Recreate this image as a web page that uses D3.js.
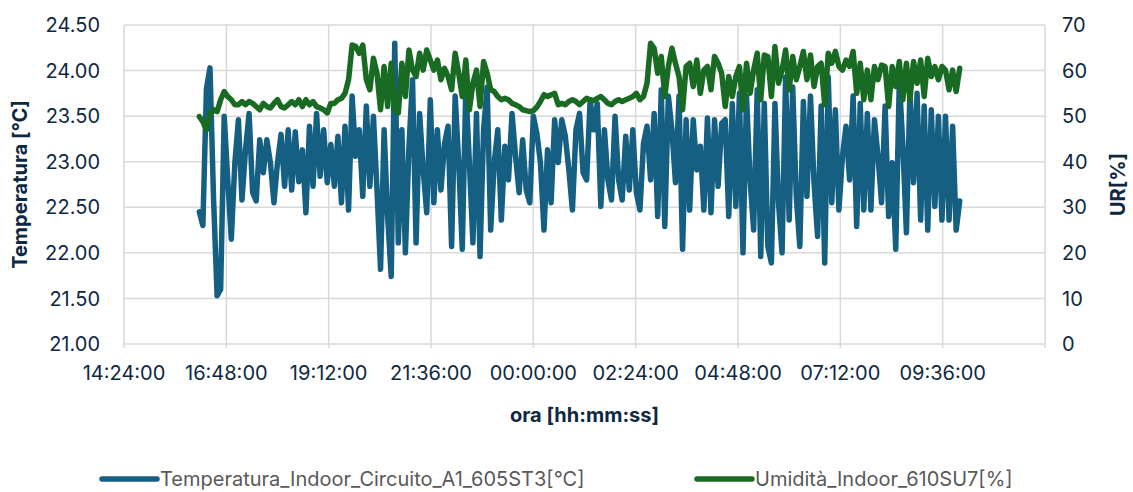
<!DOCTYPE html>
<html>
<head>
<meta charset="utf-8">
<script src="https://cdn.jsdelivr.net/npm/d3@7"></script>
<style>
  html, body { margin: 0; padding: 0; background: #fff; }
  #chart { width: 1133px; height: 492px; }
  text { font-family: Inter, "Liberation Sans", Arial, sans-serif; }
</style>
</head>
<body>
<div id="chart"></div>
<script>
// Temperatura e umidità indoor, campioni ogni 5 minuti dalle 16:10 alle 10:00
const startTime = "16:10";
const stepMinutes = 5;

const temperature = [
  22.45, 22.30, 23.80, 24.03, 22.60, 21.53, 21.60, 23.50, 22.80, 22.15,
  22.99, 23.46, 22.58, 23.13, 23.53, 22.66, 22.57, 23.24, 22.88, 23.24,
  22.99, 22.55, 22.99, 23.30, 22.73, 23.35, 22.69, 23.33, 22.78, 23.13,
  22.44, 23.39, 22.73, 23.53, 22.84, 23.35, 22.77, 23.19, 22.73, 23.28,
  22.55, 23.39, 22.47, 23.72, 23.06, 23.35, 22.62, 23.61, 22.73, 23.50,
  22.69, 21.82, 23.35, 22.40, 21.74, 24.30, 22.11, 23.35, 22.00, 23.17,
  23.90, 22.11, 23.53, 22.91, 22.44, 23.68, 22.55, 23.35, 22.69, 23.20,
  23.39, 22.07, 23.72, 22.99, 22.04, 23.82, 22.99, 22.11, 23.53, 21.96,
  23.35, 23.82, 22.25, 22.99, 23.35, 22.36, 23.17, 22.80, 23.53, 23.06,
  22.66, 23.24, 22.69, 22.55, 23.50, 23.31, 22.99, 22.25, 23.13, 22.55,
  23.46, 22.99, 23.46, 23.28, 22.91, 22.47, 23.35, 23.53, 22.88, 22.80,
  23.68, 23.35, 23.64, 22.51, 23.35, 22.80, 22.58, 23.50, 22.80, 22.58,
  23.28, 22.69, 23.35, 22.66, 22.47, 23.20, 23.39, 22.80, 23.53, 22.40,
  23.79, 22.29, 23.72, 23.35, 22.77, 23.72, 22.04, 23.46, 22.47, 23.46,
  22.91, 23.17, 22.47, 23.48, 22.44, 23.46, 22.73, 23.42, 23.46, 22.40,
  23.64, 22.51, 23.75, 22.00, 23.72, 22.80, 22.25, 23.79, 21.96, 23.64,
  22.07, 21.89, 23.64, 22.55, 22.00, 23.93, 22.36, 23.82, 22.62, 22.07,
  23.66, 22.62, 23.72, 22.77, 22.18, 23.61, 21.89, 23.93, 22.55, 23.57,
  22.47, 23.06, 23.39, 22.80, 23.72, 22.29, 23.64, 22.47, 23.53, 22.47,
  23.46, 23.06, 22.55, 23.61, 22.40, 22.99, 22.04, 23.90, 23.17, 22.22,
  23.79, 22.77, 23.75, 22.36, 23.61, 22.25, 23.57, 22.51, 23.50, 22.36,
  23.50, 22.36, 23.39, 22.25, 22.57
];

const humidity = [
  49.9, 48.8, 47.0, 50.7, 51.4, 51.0, 53.6, 55.4, 54.3, 53.6,
  52.5, 52.5, 53.2, 52.5, 53.2, 52.8, 52.1, 51.4, 52.8, 52.1,
  51.8, 52.8, 53.6, 52.1, 51.8, 52.5, 53.2, 52.5, 53.6, 52.1,
  53.6, 52.5, 53.2, 52.1, 51.8, 51.4, 50.7, 52.8, 52.8, 53.6,
  53.9, 55.0, 58.0, 65.6, 65.3, 63.8, 65.6, 58.0, 55.8, 62.7,
  59.4, 51.4, 60.9, 52.1, 61.6, 51.4, 50.7, 61.6, 54.3, 64.5,
  60.1, 58.7, 63.8, 60.1, 64.5, 62.3, 60.1, 62.3, 58.0, 60.5,
  58.7, 55.8, 63.8, 59.4, 54.3, 62.3, 51.4, 57.2, 60.1, 52.1,
  62.0, 59.4, 55.8, 55.4, 54.3, 53.6, 53.9, 53.6, 52.8, 52.5,
  52.1, 51.4, 51.2, 51.0, 51.2, 52.0, 53.2, 54.7, 54.3, 54.7,
  55.0, 52.5, 52.8, 52.5, 53.2, 53.6, 53.2, 52.5, 53.2, 53.9,
  53.6, 53.4, 53.9, 54.3, 53.6, 52.8, 52.5, 53.2, 53.6, 53.2,
  53.6, 53.9, 54.3, 55.0, 53.6, 54.3, 57.2, 66.0, 64.9, 59.4,
  63.1, 54.3, 60.9, 64.9, 61.6, 58.7, 51.4, 60.9, 61.6, 56.5,
  62.3, 55.0, 60.1, 60.9, 55.8, 63.1, 61.6, 59.4, 52.1, 58.7,
  54.3, 58.7, 60.9, 51.4, 61.6, 55.0, 60.1, 63.8, 53.6, 63.4,
  63.1, 54.3, 65.3, 57.2, 60.1, 64.5, 55.8, 63.1, 58.0, 60.9,
  64.2, 58.0, 63.4, 56.5, 60.9, 61.6, 52.5, 63.8, 61.6, 64.2,
  60.9, 60.1, 62.3, 60.9, 64.2, 55.0, 61.6, 53.6, 60.1, 53.6,
  60.9, 58.0, 61.2, 60.9, 52.1, 60.9, 56.5, 62.0, 53.6, 61.6,
  53.6, 62.0, 57.2, 62.3, 54.3, 62.7, 58.7, 60.9, 58.0, 60.9,
  60.1, 55.8, 60.1, 55.4, 60.5
];

const xTickLabels = ["14:24:00", "16:48:00", "19:12:00", "21:36:00", "00:00:00",
                     "02:24:00", "04:48:00", "07:12:00", "09:36:00"];
const tempTicks = [21.0, 21.5, 22.0, 22.5, 23.0, 23.5, 24.0, 24.5];
const urTicks = [0, 10, 20, 30, 40, 50, 60, 70];

const seriesNames = ["Temperatura_Indoor_Circuito_A1_605ST3[°C]", "Umidità_Indoor_610SU7[%]"];

(() => {
    const W = 1133, H = 492;
    const m = { top: 25, right: 88, bottom: 148, left: 124 };
    const w = W - m.left - m.right;
    const h = H - m.top - m.bottom;
    const textCol = "#0E2841";
    const blue = "#156082", green = "#196B24";

    const svg = d3.select("#chart").append("svg").attr("width", W).attr("height", H);
    const g = svg.append("g").attr("transform", `translate(${m.left},${m.top})`);

    // asse dei tempi: giorno 1 -> giorno 2
    const day = (d, hm) => { const [hh, mm] = hm.split(":").map(Number); return new Date(2024, 0, d, hh, mm); };
    const t0 = day(1, startTime);
    const tAt = i => new Date(t0.getTime() + i * stepMinutes * 60000);
    const x = d3.scaleTime().domain([day(1, "14:24"), day(2, "12:00")]).range([0, w]);
    const yT = d3.scaleLinear().domain([21, 24.5]).range([h, 0]);
    const yU = d3.scaleLinear().domain([0, 70]).range([h, 0]);

    const xTicks = d3.range(10).map(i => new Date(day(1, "14:24").getTime() + i * 144 * 60000));

    // griglia
    g.append("g").selectAll("line").data(tempTicks).join("line")
        .attr("x1", 0).attr("x2", w).attr("y1", d => yT(d)).attr("y2", d => yT(d))
        .attr("stroke", "#D9D9D9").attr("stroke-width", 1.5);
    g.append("g").selectAll("line").data(xTicks).join("line")
        .attr("x1", d => x(d)).attr("x2", d => x(d)).attr("y1", 0).attr("y2", h + 4)
        .attr("stroke", "#D9D9D9").attr("stroke-width", 1.5);

    // etichette assi
    g.append("g").selectAll("text").data(tempTicks).join("text")
        .attr("x", -24).attr("y", d => yT(d)).attr("dy", "0.36em")
        .attr("text-anchor", "end").attr("font-size", 20).attr("fill", textCol)
        .text(d => d.toFixed(2));
    g.append("g").selectAll("text").data(urTicks).join("text")
        .attr("x", w + 17).attr("y", d => yU(d)).attr("dy", "0.36em")
        .attr("text-anchor", "start").attr("font-size", 20).attr("fill", textCol)
        .text(d => d);
    g.append("g").selectAll("text").data(xTickLabels).join("text")
        .attr("x", (d, i) => x(xTicks[i])).attr("y", h + 29).attr("dy", "0.36em")
        .attr("text-anchor", "middle").attr("font-size", 20).attr("fill", textCol)
        .text(d => d);

    g.append("text").attr("transform", `translate(${20 - m.left},${h / 2}) rotate(-90)`)
        .attr("dy", "0.36em").attr("text-anchor", "middle").attr("font-size", 20)
        .attr("font-weight", "bold").attr("fill", textCol).text("Temperatura [°C]");
    g.append("text").attr("transform", `translate(${1118 - m.left},${h / 2}) rotate(-90)`)
        .attr("dy", "0.36em").attr("text-anchor", "middle").attr("font-size", 20)
        .attr("font-weight", "bold").attr("fill", textCol).text("UR[%]");
    g.append("text").attr("x", w / 2).attr("y", h + 71).attr("dy", "0.36em")
        .attr("text-anchor", "middle").attr("font-size", 20)
        .attr("font-weight", "bold").attr("fill", textCol).text("ora [hh:mm:ss]");

    // serie
    const lineT = d3.line().x((d, i) => x(tAt(i))).y(d => yT(d));
    const lineU = d3.line().x((d, i) => x(tAt(i))).y(d => yU(d));
    g.append("path").datum(temperature).attr("d", lineT).attr("fill", "none")
        .attr("stroke", blue).attr("stroke-width", 5.5)
        .attr("stroke-linejoin", "round").attr("stroke-linecap", "round");
    g.append("path").datum(humidity).attr("d", lineU).attr("fill", "none")
        .attr("stroke", green).attr("stroke-width", 5.5)
        .attr("stroke-linejoin", "round").attr("stroke-linecap", "round");

    // legenda
    const leg = svg.append("g").attr("transform", "translate(0,479)");
    const items = [
        { name: seriesNames[0], color: blue, x0: 102 },
        { name: seriesNames[1], color: green, x0: 697 }
    ];
    items.forEach(it => {
        leg.append("line").attr("x1", it.x0).attr("x2", it.x0 + 55).attr("y1", 0).attr("y2", 0)
            .attr("stroke", it.color).attr("stroke-width", 5.5).attr("stroke-linecap", "round");
        leg.append("text").attr("x", it.x0 + 58).attr("y", 0).attr("dy", "0.36em")
            .attr("font-size", 20).attr("fill", "#595959").text(it.name);
    });
})();
</script>
</body>
</html>
